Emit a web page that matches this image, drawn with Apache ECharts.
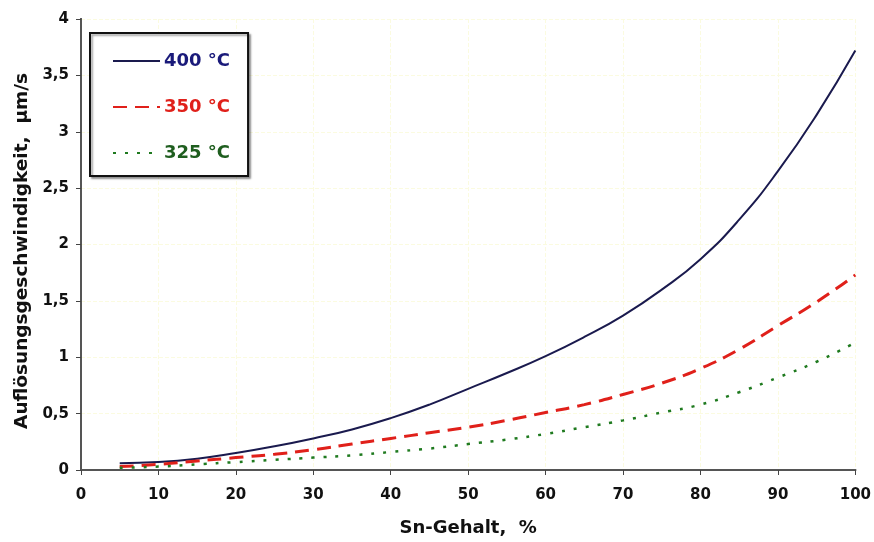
<!DOCTYPE html>
<html>
<head>
<meta charset="utf-8">
<script src="https://cdn.jsdelivr.net/npm/echarts@6/dist/echarts.min.js"></script>
<style>
  html, body { margin: 0; padding: 0; background: #fff; }
  #chart { width: 874px; height: 542px; }
</style>
</head>
<body>
<div id="chart"></div>
<script>
// Sn-Gehalt in %
var snGehalt = [5, 10, 15, 20, 25, 30, 35, 40, 45, 50, 55, 60, 65, 70, 75, 80, 85, 90, 95, 100];
// Auflösungsgeschwindigkeit in µm/s
var t400 = [0.06, 0.07, 0.10, 0.15, 0.21, 0.28, 0.36, 0.46, 0.58, 0.72, 0.86, 1.01, 1.18, 1.37, 1.60, 1.87, 2.22, 2.65, 3.15, 3.72];
var t350 = [0.03, 0.05, 0.08, 0.11, 0.14, 0.18, 0.23, 0.28, 0.33, 0.38, 0.44, 0.51, 0.58, 0.67, 0.77, 0.90, 1.07, 1.28, 1.49, 1.73];
var t325 = [0.02, 0.03, 0.05, 0.07, 0.09, 0.11, 0.13, 0.16, 0.19, 0.23, 0.27, 0.32, 0.38, 0.44, 0.51, 0.58, 0.69, 0.82, 0.96, 1.13];
var seriesNames = ['400 °C', '350 °C', '325 °C'];

function pairs(ys) {
    return snGehalt.map(function (x, i) { return [x, ys[i]]; });
}

var chart = echarts.init(document.getElementById('chart'));

// Rahmen oben / rechts
var frameAxis = {
    type: 'value',
    min: 0,
    axisLine: { show: true, lineStyle: { color: '#555', width: 2 } },
    axisTick: { show: false },
    axisLabel: { show: false },
    splitLine: { show: false }
};

var option = {
    animation: false,
    textStyle: {
        fontFamily: 'DejaVu Sans, sans-serif'
    },
    grid: {
        left: 81,
        right: 18,
        top: 19,
        bottom: 71
    },
    legend: {
        orient: 'vertical',
        left: 90,
        top: 33,
        padding: [19, 18, 14, 22],
        itemWidth: 47,
        itemHeight: 14,
        itemGap: 28,
        backgroundColor: '#fff',
        borderColor: '#111',
        borderWidth: 2,
        shadowColor: 'rgba(0,0,0,0.35)',
        shadowBlur: 2,
        shadowOffsetX: 2,
        shadowOffsetY: 2,
        itemStyle: { opacity: 0 },
        textStyle: {
            fontSize: 18,
            fontWeight: 'bold',
            padding: [0, 0, 0, -1]
        },
        data: [
            { name: seriesNames[0], textStyle: { color: '#1a1a7a' } },
            { name: seriesNames[1], textStyle: { color: '#e0201a' } },
            { name: seriesNames[2], textStyle: { color: '#1f5e1f' } }
        ]
    },
    xAxis: [{
        type: 'value',
        min: 0,
        max: 100,
        interval: 10,
        name: 'Sn-Gehalt,  %',
        nameLocation: 'middle',
        nameGap: 49,
        nameTextStyle: { fontSize: 18, fontWeight: 'bold', color: '#111' },
        axisLine: { lineStyle: { color: '#444', width: 2 } },
        axisTick: { show: true, length: 5, lineStyle: { color: '#444' } },
        axisLabel: { fontSize: 15, fontWeight: 'bold', color: '#111', margin: 18 },
        splitLine: { show: true, lineStyle: { color: '#fbfbe0', type: 'dashed' } }
    }, Object.assign({}, frameAxis, { position: 'top', max: 100 })],
    yAxis: [{
        type: 'value',
        min: 0,
        max: 4,
        interval: 0.5,
        name: 'Auflösungsgeschwindigkeit,  µm/s  ',
        nameLocation: 'middle',
        nameGap: 49,
        nameTextStyle: { fontSize: 18.5, fontWeight: 'bold', color: '#111' },
        axisLine: { show: true, lineStyle: { color: '#444', width: 2 } },
        axisTick: { show: true, length: 5, lineStyle: { color: '#444' } },
        axisLabel: {
            fontSize: 15,
            fontWeight: 'bold',
            color: '#111',
            margin: 12,
            formatter: function (v) { return String(v).replace('.', ','); }
        },
        splitLine: { show: true, lineStyle: { color: '#fbfbe0', type: 'dashed' } }
    }, Object.assign({}, frameAxis, { position: 'right', max: 4 })],
    series: [
        {
            name: seriesNames[0],
            type: 'line',
            smooth: true,
            symbol: 'none',
            data: pairs(t400),
            lineStyle: { color: '#1a1a4e', width: 2, type: 'solid' },
            itemStyle: { color: '#1a1a4e' }
        },
        {
            name: seriesNames[1],
            type: 'line',
            smooth: true,
            symbol: 'none',
            data: pairs(t350),
            lineStyle: { color: '#e0201a', width: 3, type: [14, 8] },
            itemStyle: { color: '#e0201a' }
        },
        {
            name: seriesNames[2],
            type: 'line',
            smooth: true,
            symbol: 'none',
            data: pairs(t325),
            lineStyle: { color: '#1f7a1f', width: 2.5, type: [3, 9] },
            itemStyle: { color: '#1f7a1f' }
        }
    ]
};

chart.setOption(option);
</script>
</body>
</html>
